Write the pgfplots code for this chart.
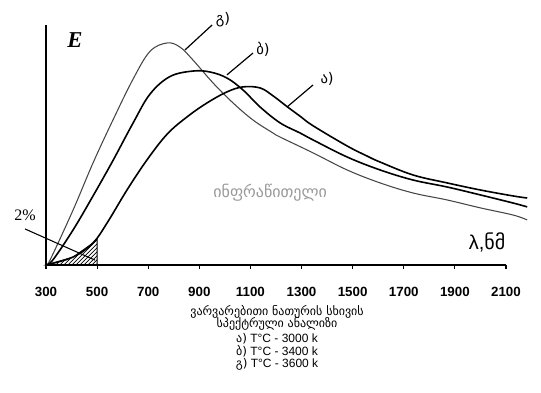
\documentclass[border=0pt]{standalone}
\usepackage{pgfplots}
\pgfplotsset{compat=1.18}
\usepackage{fontspec}
\setmainfont{Liberation Sans}
\newfontfamily\geo{DejaVu Sans}
\newfontfamily\serif{Liberation Serif}
\usetikzlibrary{patterns}
\begin{document}
\begin{tikzpicture}
\begin{axis}[
  scale only axis, width=345pt, height=180pt,
  xmin=300, xmax=2100, ymin=0, ymax=100,
  axis x line=bottom, axis y line=left,
  axis line style={-, line width=1.3pt},
  xtick={300,500,...,2100},
  xticklabels={300,500,700,900,1100,1300,1500,1700,1900,2100},
  xticklabel style={font=\bfseries\fontsize{10}{10}\selectfont, yshift=-10pt},
  ytick=\empty,
  tick align=outside, major tick length=3pt,
  tick style={black, line width=0.8pt},
  clip=false,
]
% bounding box matching reference proportions
\path (axis cs:120,-53.3) rectangle (axis cs:2237,110.4);
% hatched visible region
\addplot[pattern=north east lines, draw=black, line width=0.6pt] coordinates {(300,0)(406,3.3)(484,9.2)(500,11)(500,0)} -- cycle;
% 3600 K
\addplot[smooth, tension=0.6, gray!55!black, line width=0.8pt] coordinates {(300,0)(316,2.1)(406,22.9)(484,42.5)(562,60.4)(641,77.5)(707,89)(774,92.5)(824,90.8)(875,85.4)(954,75.8)(1032,67.5)(1110,60.4)(1188,55)(1216,53.3)(1345,46.7)(1478,39.6)(1607,34.2)(1736,30)(1869,27.1)(1999,23.8)(2128,20.8)(2183,18.75)};
% 3400 K
\addplot[smooth, tension=0.6, black, line width=1.2pt] coordinates {(300,0)(327,2.1)(406,14.6)(484,28.75)(562,43.5)(641,59.2)(707,71.2)(785,78.5)(875,80.8)(942,80.4)(1008,77.9)(1071,72.9)(1138,65.8)(1216,59.2)(1294,55)(1345,52.1)(1478,45)(1607,39.6)(1736,35.4)(1869,32.5)(1999,29.2)(2128,25.8)(2183,24.2)};
% 3000 K
\addplot[smooth, tension=0.6, black, line width=1.2pt] coordinates {(300,0)(406,3.3)(484,9.2)(539,17.5)(617,31.25)(695,43.75)(774,54.5)(852,61.7)(930,67.5)(1008,72.1)(1071,74.2)(1138,73.75)(1188,70.5)(1243,66)(1294,62)(1345,58)(1478,49.6)(1556,45.4)(1607,42.9)(1736,37.5)(1869,34.2)(1999,31.25)(2128,28.75)(2183,27.9)};
% leaders
\draw[line width=0.9pt] (axis cs:844,89.6) -- (axis cs:950,100);
\draw[line width=0.9pt] (axis cs:1008,79.2) -- (axis cs:1110,88.3);
\draw[line width=0.9pt] (axis cs:1243,65.8) -- (axis cs:1345,75);
\draw[line width=0.8pt] (axis cs:218,15) -- (axis cs:492,2);
\node[font=\geo\fontsize{11}{11}\selectfont] at (axis cs:993,102) {გ)};
\node[font=\geo\fontsize{11}{11}\selectfont] at (axis cs:1149,90) {ბ)};
\node[font=\geo\fontsize{11}{11}\selectfont] at (axis cs:1400,77.5) {ა)};
\node[font=\serif\fontsize{12}{12}\selectfont] at (axis cs:218,20.8) {2\%};
\node[font=\serif\itshape\bfseries\fontsize{17}{17}\selectfont] at (axis cs:413,93.75) {E};
\node[font=\fontsize{15}{15}\selectfont] at (axis cs:2026,9.6) {λ,{\geo ნმ}};
\node[font=\geo\fontsize{12}{12}\selectfont, text=gray!80] at (axis cs:1177,30) {ინფრაწითელი};
\node[font=\geo\fontsize{9}{9}\selectfont] at (axis cs:1204,-19.4) {ვარვარებითი ნათურის სხივის};
\node[font=\geo\fontsize{9}{9}\selectfont] at (axis cs:1204,-24.6) {სპექტრული ანალიზი};
\node[font=\fontsize{9}{9}\selectfont] at (axis cs:1204,-30.8) {{\geo ა)} T°C - 3000 k};
\node[font=\fontsize{9}{9}\selectfont] at (axis cs:1204,-35.8) {{\geo ბ)} T°C - 3400 k};
\node[font=\fontsize{9}{9}\selectfont] at (axis cs:1204,-41.25) {{\geo გ)} T°C - 3600 k};
\end{axis}
\end{tikzpicture}
\end{document}
